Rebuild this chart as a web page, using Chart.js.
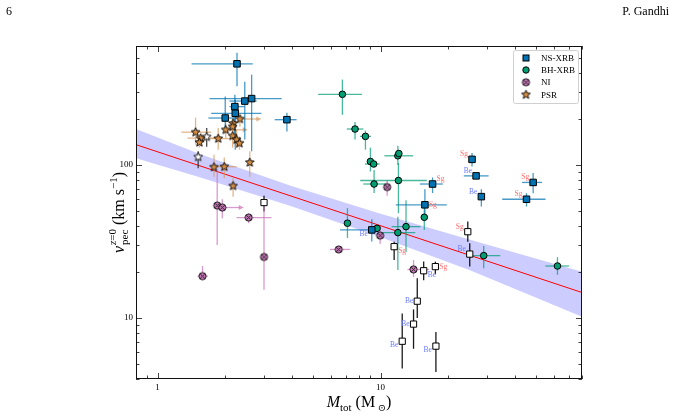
<!DOCTYPE html>
<html>
<head>
<meta charset="utf-8">
<script src="https://cdn.jsdelivr.net/npm/chart.js@4.4.0/dist/chart.umd.min.js"></script>
<style>
  html, body { margin: 0; padding: 0; background: #fff; }
  canvas { display: block; }
</style>
</head>
<body>
<canvas id="chart" width="675" height="417" style="width:675px;height:417px"></canvas>
<script>
// rows: [mass, velocity, massLo, massHi, velLo, velHi, arrowTo]
const nsXrb = [
  [2.27, 459, 1.42, 2.67, 327, 543],
  [2.64, 272, 1.71, 3.60, 123, 390],
  [2.46, 262, 2.10, 2.78, 147, 351],
  [2.22, 241, 2.10, 2.45, 147, 288],
  [2.23, 218, 1.74, 2.92, 126, 268],
  [2.01, 203, 1.69, 2.22, 163, 281],
  [3.80, 198, 3.35, 4.20, 166, 220],
  [25.7, 109, null, null, 98, 120],
  [26.8, 85, 23.6, 30.5, null, null],
  [28.3, 62.2, null, null, 53.6, 69.6],
  [48.3, 77, 43.1, 53.0, 65.5, 88.6],
  [45.1, 59.8, 35.1, 54.9, 53.6, 65.5],
  [17.1, 75.2, 15.0, 19.0, 65.6, 83],
  [15.8, 55, 11.7, 19.8, 43.9, 69.6],
  [9.13, 37.7, 6.58, 9.9, 31.7, 44.3]
];
const nsLabels = ['', '', '', '', '', '', '', 'Sg', 'Be', 'Be', 'Sg', 'Sg', 'Sg', 'Sg', 'Be'];
const nsLabelPos = ['', '', '', '', '', '', '', 'ul', 'ul', 'ul', 'ul', 'ul', 'ur', 'r', 'dl'];

const bhXrb = [
  [6.74, 290, 5.25, 8.24, 213, 362],
  [7.68, 172, 7.05, 8.37, 147, 191],
  [8.55, 154, 8.09, 9.05, 126, 168],
  [9.0, 105.6, null, null, 90.8, 130],
  [9.31, 101.6, 8.5, 9.9, null, null],
  [11.95, 115, 10.4, 14.0, 100, 134],
  [12.07, 119, null, null, null, null],
  [9.35, 75.2, 8.36, 10.6, 65.6, 93],
  [12.02, 79.3, 8.1, 16.1, 48.5, 103],
  [15.7, 45.6, null, null, 37.7, 56.4],
  [7.1, 41.7, null, null, 33.4, 52.3],
  [9.64, 38.6, null, null, null, null],
  [11.95, 36.2, 10.0, 14.3, 20.6, 46],
  [13.0, 39.6, 11.2, 15.1, 27, 59],
  [29.0, 25.6, 25.2, 34.4, 21.2, 29.6],
  [62.1, 21.9, 54.8, 69.9, 19.2, 25]
];

const niPoints = [
  [1.85, 54.4, null, null, 30, 91],
  [1.95, 52.8, null, null, 45, 59.9, 2.41],
  [2.56, 45.4, 2.26, 3.24, 41.7, 48.4],
  [3.0, 25.1, null, null, 15.3, 56.7],
  [1.59, 18.8, 1.51, 1.68, 17.7, 21.9],
  [6.49, 28.1, 5.93, 7.3, 26.6, 29.6],
  [10.7, 71.8, null, null, 63, 80],
  [9.95, 34.6, null, null, 30.5, 40],
  [14.05, 20.8, 13.2, 16.5, 18.6, 24]
];

const psrPoints = [
  [2.34, 200, null, null, 178, 213, 2.89],
  [2.18, 187, null, null, 170, 205],
  [2.17, 178, null, null, 146.5, 203],
  [2.02, 170, null, null, 150, 190, 2.51],
  [2.17, 155, null, null, 130, 175],
  [2.26, 146.5, null, null, 129, 170],
  [2.33, 139, null, null, 126, 154],
  [1.87, 149, 1.59, 2.14, 126, 175],
  [1.48, 164, 1.28, 1.74, 136, 204],
  [1.56, 150, 1.36, 1.86, null, null],
  [1.54, 140.7, null, null, 130, 150],
  [1.79, 97, null, null, 84, 117],
  [1.99, 97.5, 1.77, 2.26, 82, 112],
  [2.59, 104, null, null, 84, 123],
  [2.18, 73, null, null, 62, 82]
];

const openStars = [
  [1.66, 153, null, null, 132, 175],
  [1.52, 113, null, null, 95.5, 123]
];

const openSquares = [
  [3.0, 56.9, null, null, 49.7, 63],
  [11.5, 29.3, null, null, 24, 31.6],
  [15.6, 20.4, null, null, 17.7, 23.4],
  [17.6, 21.7, null, null, 19.4, 23.4],
  [14.6, 12.9, null, null, 10, 18.2],
  [14.05, 9.14, null, null, 6.3, 11.4],
  [12.5, 7.06, null, null, 4.69, 10.7],
  [17.7, 6.56, null, null, 4.45, 8.1],
  [24.6, 36.7, null, null, 31.6, 42.8],
  [25.1, 26.2, null, null, 21.7, 30.8]
];
const openLabels = ['', 'Sg', 'Be', 'Sg', 'Be', 'Be', 'Be', 'Be', 'Sg', 'Be'];
const openLabelPos = ['', 'dr', 'dr', 'r', 'l', 'l', 'dl', 'dl', 'ul', 'ul'];

// fit and its band
const fitMass = [0.8, 80];
const fitVel = [136, 14.7];
const bandMass = [0.8, 1.545, 3.92, 10, 25, 80];
const bandUpper = [172, 118, 73.5, 48, 32.6, 20.1];
const bandLower = [111, 83.4, 54.3, 33.8, 20.6, 10.2];

// axis ticks
const xMajor = [1, 10];
const xMinor = [0.8, 0.9, 2, 3, 4, 5, 6, 7, 8, 9, 20, 30, 40, 50, 60, 70, 80];
const yMajor = [10, 100];
const yMinor = [4, 5, 6, 7, 8, 9, 20, 30, 40, 50, 60, 70, 80, 90, 200, 300, 400, 500, 600];

const legendNames = ['NS-XRB', 'BH-XRB', 'NI', 'PSR'];

const SERIF = '"Liberation Serif", "DejaVu Serif", serif';
const C_NS = '#0173B2', C_BH = '#029E73', C_NI = '#CC78BC', C_PSR = '#D08B45';

function starMarker(fill, r) {
  const c = document.createElement('canvas');
  const s = Math.ceil(r * 2 + 3);
  c.width = c.height = s;
  const g = c.getContext('2d');
  g.translate(s / 2, s / 2);
  g.beginPath();
  for (let i = 0; i < 10; i++) {
    const a = -Math.PI / 2 + i * Math.PI / 5;
    const rr = i % 2 ? r * 0.45 : r;
    g.lineTo(rr * Math.cos(a), rr * Math.sin(a));
  }
  g.closePath();
  g.fillStyle = fill; g.fill();
  g.lineWidth = 0.9; g.strokeStyle = '#000'; g.stroke();
  return c;
}

function niMarker(r) {
  const c = document.createElement('canvas');
  const s = Math.ceil(r * 2 + 3);
  c.width = c.height = s;
  const g = c.getContext('2d');
  g.translate(s / 2, s / 2);
  g.beginPath(); g.arc(0, 0, r, 0, Math.PI * 2);
  g.fillStyle = C_NI; g.fill();
  g.lineWidth = 0.9; g.strokeStyle = '#000'; g.stroke();
  const k = r * 0.62;
  g.beginPath();
  g.moveTo(-k, -k); g.lineTo(k, k); g.moveTo(k, -k); g.lineTo(-k, k);
  g.lineWidth = 1; g.strokeStyle = '#222'; g.stroke();
  return c;
}

const starOrange = starMarker(C_PSR, 4.6);
const starWhite = starMarker('#fff', 4.6);
const niIcon = niMarker(3.6);

const toXY = rows => rows.map(r => ({ x: r[0], y: r[1] }));

const errorSets = [
  { rows: openSquares, color: 'rgba(0,0,0,0.9)' },
  { rows: openStars, color: 'rgba(40,40,40,0.85)' },
  { rows: psrPoints, color: 'rgba(214,150,90,0.7)' },
  { rows: niPoints, color: 'rgba(204,120,188,0.75)' },
  { rows: bhXrb, color: 'rgba(2,158,115,0.72)' },
  { rows: nsXrb, color: 'rgba(1,115,178,0.72)' }
];

function drawErrorBars(chart) {
  const { ctx, scales: { x, y } } = chart;
  ctx.save();
  ctx.lineWidth = 1.3;
  errorSets.forEach(set => {
    ctx.strokeStyle = set.color;
    ctx.fillStyle = set.color;
    set.rows.forEach(r => {
      const px = x.getPixelForValue(r[0]);
      const py = y.getPixelForValue(r[1]);
      if (r[2] != null) {
        ctx.beginPath();
        ctx.moveTo(x.getPixelForValue(r[2]), py);
        ctx.lineTo(x.getPixelForValue(r[3]), py);
        ctx.stroke();
      }
      if (r[4] != null) {
        ctx.beginPath();
        ctx.moveTo(px, y.getPixelForValue(r[4]));
        ctx.lineTo(px, y.getPixelForValue(r[5]));
        ctx.stroke();
      }
      if (r[6] != null) {
        const ax = x.getPixelForValue(r[6]);
        ctx.beginPath();
        ctx.moveTo(px, py); ctx.lineTo(ax - 3, py);
        ctx.stroke();
        ctx.beginPath();
        ctx.moveTo(ax + 1, py); ctx.lineTo(ax - 4, py - 2.6); ctx.lineTo(ax - 4, py + 2.6);
        ctx.closePath(); ctx.fill();
      }
    });
  });
  ctx.restore();
}

function drawPointLabels(chart, rows, labels, pos) {
  const { ctx, scales: { x, y } } = chart;
  ctx.save();
  ctx.font = '7.5px ' + SERIF;
  ctx.textBaseline = 'middle';
  rows.forEach((r, i) => {
    const t = labels[i];
    if (!t) return;
    const p = pos[i];
    const px = x.getPixelForValue(r[0]);
    const py = y.getPixelForValue(r[1]);
    const left = p.includes('l');
    const dy = p[0] === 'u' ? -5 : p[0] === 'd' ? 4 : 0;
    ctx.textAlign = left ? 'right' : 'left';
    ctx.fillStyle = t === 'Sg' ? '#ff6e6e' : '#6b7cff';
    ctx.fillText(t, px + (left ? -4 : 4), py + dy);
  });
  ctx.restore();
}

function drawFrame(chart) {
  const { ctx, chartArea: a, scales: { x, y } } = chart;
  ctx.save();
  ctx.strokeStyle = '#111';
  ctx.lineWidth = 1;
  ctx.strokeRect(Math.round(a.left) + 0.5, Math.round(a.top) + 0.5,
    Math.round(a.right - a.left) - 1, Math.round(a.bottom - a.top) - 1);
  ctx.lineWidth = 0.8;
  const xt = (v, len) => {
    const p = Math.round(x.getPixelForValue(v)) + 0.5;
    ctx.beginPath();
    ctx.moveTo(p, a.bottom); ctx.lineTo(p, a.bottom - len);
    ctx.moveTo(p, a.top); ctx.lineTo(p, a.top + len);
    ctx.stroke();
  };
  const yt = (v, len) => {
    const p = Math.round(y.getPixelForValue(v)) + 0.5;
    ctx.beginPath();
    ctx.moveTo(a.left, p); ctx.lineTo(a.left + len, p);
    ctx.moveTo(a.right, p); ctx.lineTo(a.right - len, p);
    ctx.stroke();
  };
  xMajor.forEach(v => xt(v, 6));
  xMinor.forEach(v => xt(v, 3.5));
  yMajor.forEach(v => yt(v, 6));
  yMinor.forEach(v => yt(v, 3.5));
  ctx.restore();
}

function drawLegend(chart) {
  const { ctx } = chart;
  ctx.save();
  const bx = 513, by = 50, bw = 65, bh = 53;
  ctx.beginPath();
  ctx.roundRect(bx + 0.5, by + 0.5, bw, bh, 2);
  ctx.fillStyle = 'rgba(255,255,255,0.85)';
  ctx.fill();
  ctx.strokeStyle = '#d0d0d0';
  ctx.lineWidth = 1;
  ctx.stroke();
  const mx = 526, tx = 541;
  const rows = [58, 70, 82.3, 94.7];
  // NS square
  ctx.fillStyle = C_NS; ctx.strokeStyle = '#000'; ctx.lineWidth = 1;
  ctx.fillRect(mx - 3, rows[0] - 3, 6, 6);
  ctx.strokeRect(mx - 3, rows[0] - 3, 6, 6);
  // BH circle
  ctx.beginPath(); ctx.arc(mx, rows[1], 3.2, 0, Math.PI * 2);
  ctx.fillStyle = C_BH; ctx.fill(); ctx.stroke();
  ctx.drawImage(niIcon, mx - niIcon.width / 2, rows[2] - niIcon.height / 2);
  ctx.drawImage(starOrange, mx - starOrange.width / 2, rows[3] - starOrange.height / 2);
  ctx.fillStyle = '#000';
  ctx.font = '9px ' + SERIF;
  ctx.textBaseline = 'middle';
  ctx.textAlign = 'left';
  legendNames.forEach((n, i) => ctx.fillText(n, tx, rows[i] + 0.5));
  ctx.restore();
}

function fnt(size, italic) {
  return (italic ? 'italic ' : '') + size + 'px ' + SERIF;
}

function drawTitles(chart) {
  const { ctx, chartArea: a } = chart;
  ctx.save();
  ctx.fillStyle = '#000';
  ctx.textBaseline = 'alphabetic';
  ctx.textAlign = 'left';
  // page header
  ctx.font = fnt(12, false);
  ctx.fillText('6', 6, 15);
  ctx.textAlign = 'right';
  ctx.fillText('P. Gandhi', 669, 15);
  ctx.textAlign = 'left';

  const big = 16, small = 11;
  const w = (t, s, it) => { ctx.font = fnt(s, it); return ctx.measureText(t).width; };

  // x title: M_tot (M_sun)
  const xParts = [['M', big, true, 0], ['tot', small, false, 3.5], [' (M', big, false, 0],
    [' \u2299', small - 1, false, 3.5], [')', big, false, 0]];
  let total = xParts.reduce((s, p) => s + w(p[0], p[1], p[2]), 0);
  let cx = (a.left + a.right) / 2 - total / 2;
  xParts.forEach(p => {
    ctx.font = fnt(p[1], p[2]);
    ctx.fillText(p[0], cx, 407 + p[3]);
    cx += ctx.measureText(p[0]).width;
  });

  // y title: v_pec^{z=0} (km s^-1)
  ctx.translate(124, (a.top + a.bottom) / 2);
  ctx.rotate(-Math.PI / 2);
  const wv = w('v', big, true);
  const wpec = w('pec', small, false);
  const wz = w('z', small, true) + w('=0', small, false);
  const wk = w(' (km s', big, false);
  const wm = w('\u22121', small, false);
  const wp = w(')', big, false);
  total = wv + 1 + Math.max(wpec, wz) + wk + wm + wp;
  cx = -total / 2;
  ctx.font = fnt(big, true); ctx.fillText('v', cx, 0); cx += wv + 1;
  ctx.font = fnt(small, false); ctx.fillText('pec', cx, 4);
  ctx.font = fnt(small, true); ctx.fillText('z', cx, -8);
  const wzz = ctx.measureText('z').width;
  ctx.font = fnt(small, false); ctx.fillText('=0', cx + wzz, -8);
  cx += Math.max(wpec, wz);
  ctx.font = fnt(big, false); ctx.fillText(' (km s', cx, 0); cx += wk;
  ctx.font = fnt(small, false); ctx.fillText('\u22121', cx, -7); cx += wm;
  ctx.font = fnt(big, false); ctx.fillText(')', cx, 0);
  ctx.restore();
}

const extras = {
  id: 'extras',
  afterDatasetDraw(chart, args) {
    if (chart.data.datasets[args.index].label === 'fit') drawErrorBars(chart);
  },
  afterDatasetsDraw(chart) {
    drawPointLabels(chart, nsXrb, nsLabels, nsLabelPos);
    drawPointLabels(chart, openSquares, openLabels, openLabelPos);
  },
  afterDraw(chart) {
    drawFrame(chart);
    drawLegend(chart);
    drawTitles(chart);
  }
};

const bandColor = 'rgba(0,0,255,0.2)';

new Chart(document.getElementById('chart'), {
  type: 'scatter',
  data: {
    datasets: [
      { label: 'NS-XRB', data: toXY(nsXrb), pointStyle: 'rect', pointRadius: 4.6,
        backgroundColor: C_NS, borderColor: '#000', borderWidth: 1, order: 1 },
      { label: 'BH-XRB', data: toXY(bhXrb), pointStyle: 'circle', pointRadius: 3.3,
        backgroundColor: C_BH, borderColor: '#000', borderWidth: 1, order: 1 },
      { label: 'NI', data: toXY(niPoints), pointStyle: niIcon, pointRadius: 4, order: 1 },
      { label: 'PSR', data: toXY(psrPoints), pointStyle: starOrange, pointRadius: 4, order: 1 },
      { label: 'open stars', data: toXY(openStars), pointStyle: starWhite, pointRadius: 4, order: 1 },
      { label: 'open squares', data: toXY(openSquares), pointStyle: 'rect', pointRadius: 4.4,
        backgroundColor: '#fff', borderColor: '#000', borderWidth: 1, order: 1 },
      { label: 'fit', type: 'line', data: fitMass.map((m, i) => ({ x: m, y: fitVel[i] })),
        borderColor: '#ff0000', borderWidth: 1, pointRadius: 0, fill: false, order: 2 },
      { label: 'band upper', type: 'line', data: bandMass.map((m, i) => ({ x: m, y: bandUpper[i] })),
        borderWidth: 0, borderColor: 'rgba(0,0,0,0)', pointRadius: 0, fill: '+1',
        backgroundColor: bandColor, order: 3 },
      { label: 'band lower', type: 'line', data: bandMass.map((m, i) => ({ x: m, y: bandLower[i] })),
        borderWidth: 0, borderColor: 'rgba(0,0,0,0)', pointRadius: 0, fill: false, order: 3 }
    ]
  },
  options: {
    responsive: false,
    animation: false,
    events: [],
    layout: { padding: { left: 0, right: 93, top: 46, bottom: 0 } },
    plugins: { legend: { display: false }, tooltip: { enabled: false } },
    scales: {
      x: {
        type: 'logarithmic', min: 0.8, max: 80,
        grid: { display: false, drawTicks: false },
        border: { display: false },
        afterBuildTicks: s => { s.ticks = xMajor.map(v => ({ value: v })); },
        afterFit: s => { s.height = 38; },
        ticks: { callback: v => String(v), color: '#000', padding: 3, maxRotation: 0, autoSkip: false,
          font: { family: SERIF, size: 9 } }
      },
      y: {
        type: 'logarithmic', min: 4, max: 600,
        grid: { display: false, drawTicks: false },
        border: { display: false },
        afterBuildTicks: s => { s.ticks = yMajor.map(v => ({ value: v })); },
        afterFit: s => { s.width = 136; },
        ticks: { callback: v => String(v), color: '#000', padding: 3, autoSkip: false,
          font: { family: SERIF, size: 9 } }
      }
    }
  },
  plugins: [extras]
});
</script>
</body>
</html>
